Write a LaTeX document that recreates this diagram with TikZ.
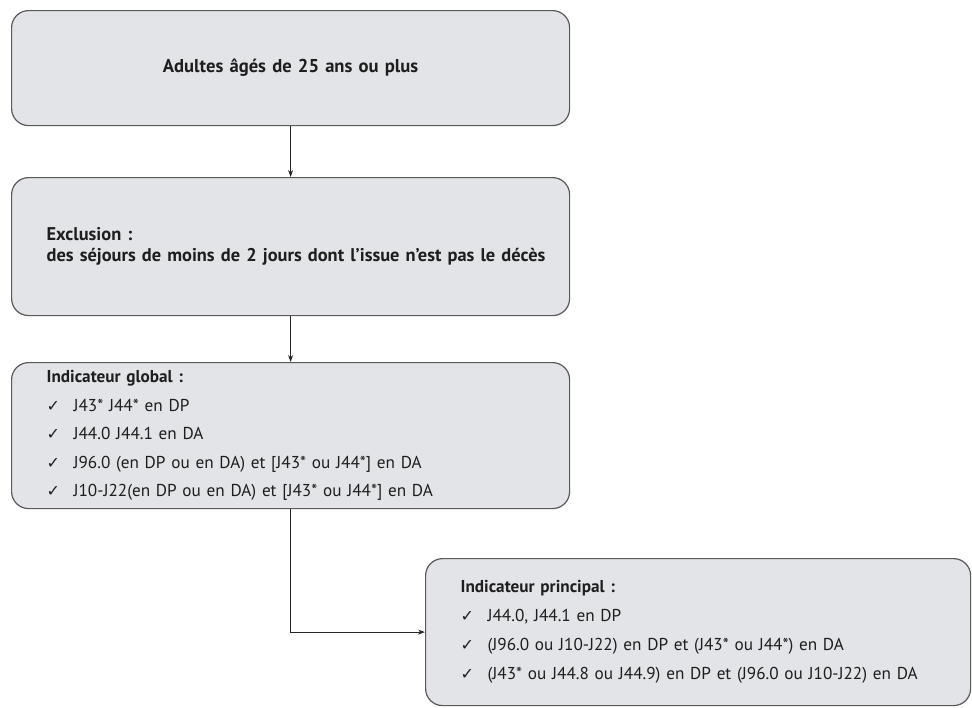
\documentclass[tikz,border=0pt]{standalone}
\usepackage{fontspec}
\setmainfont{PT Sans}
\newfontfamily\symfont{DejaVu Sans}
\usetikzlibrary{arrows.meta}
\definecolor{boxfill}{HTML}{E2E4E7}
\definecolor{boxdraw}{HTML}{5A5A5A}
\definecolor{txt}{HTML}{1E1E1E}
\newcommand{\ck}{\makebox[27pt][l]{\symfont\fontsize{16}{16}\selectfont ✓}}
\begin{document}
\begin{tikzpicture}[x=1pt,y=-1pt,
  box/.style={draw=boxdraw, line width=1.2pt, fill=boxfill, rounded corners=17pt,
    anchor=north west, inner xsep=35pt, inner ysep=0pt, text=txt},
  conn/.style={draw=black!85, line width=1pt, -{Stealth[length=7pt,width=5pt]}}]
\useasboundingbox (0,0) rectangle (972,707);
\node[box, minimum width=558pt, minimum height=115pt, text width=488pt, align=center,
  font=\bfseries\fontsize{18.6}{21}\selectfont] (b1) at (11,10) {Adultes âgés de 25 ans ou plus};
\node[box, minimum width=558pt, minimum height=138pt, text width=488pt, align=left,
  font=\bfseries\fontsize{18.4}{21.5}\selectfont] (b2) at (11,177)
  {Exclusion :\\\makebox[488pt][l]{des séjours de moins de 2 jours dont l’issue n’est pas le décès}};
\node[box, minimum width=558pt, minimum height=146pt, text width=488pt, align=left,
  font=\fontsize{17.2}{28.5}\selectfont] (b3) at (11,362)
  {\textbf{Indicateur global :}\\
   \ck J43* J44* en DP\\
   \ck J44.0 J44.1 en DA\\
   \ck J96.0 (en DP ou en DA) et [J43* ou J44*] en DA\\
   \ck J10-J22(en DP ou en DA) et [J43* ou J44*] en DA};
\node[box, minimum width=545pt, minimum height=147pt, text width=475pt, align=left,
  font=\fontsize{17.2}{29}\selectfont] (b4) at (425,558)
  {\textbf{Indicateur principal :}\\
   \ck J44.0, J44.1 en DP\\
   \ck (J96.0 ou J10-J22) en DP et (J43* ou J44*) en DA\\
   \ck (J43* ou J44.8 ou J44.9) en DP et (J96.0 ou J10-J22) en DA};
\draw[conn] (b1.south) -- (b2.north);
\draw[conn] (b2.south) -- (b3.north);
\draw[conn] (b3.south) |- (b4.west);
\end{tikzpicture}
\end{document}
